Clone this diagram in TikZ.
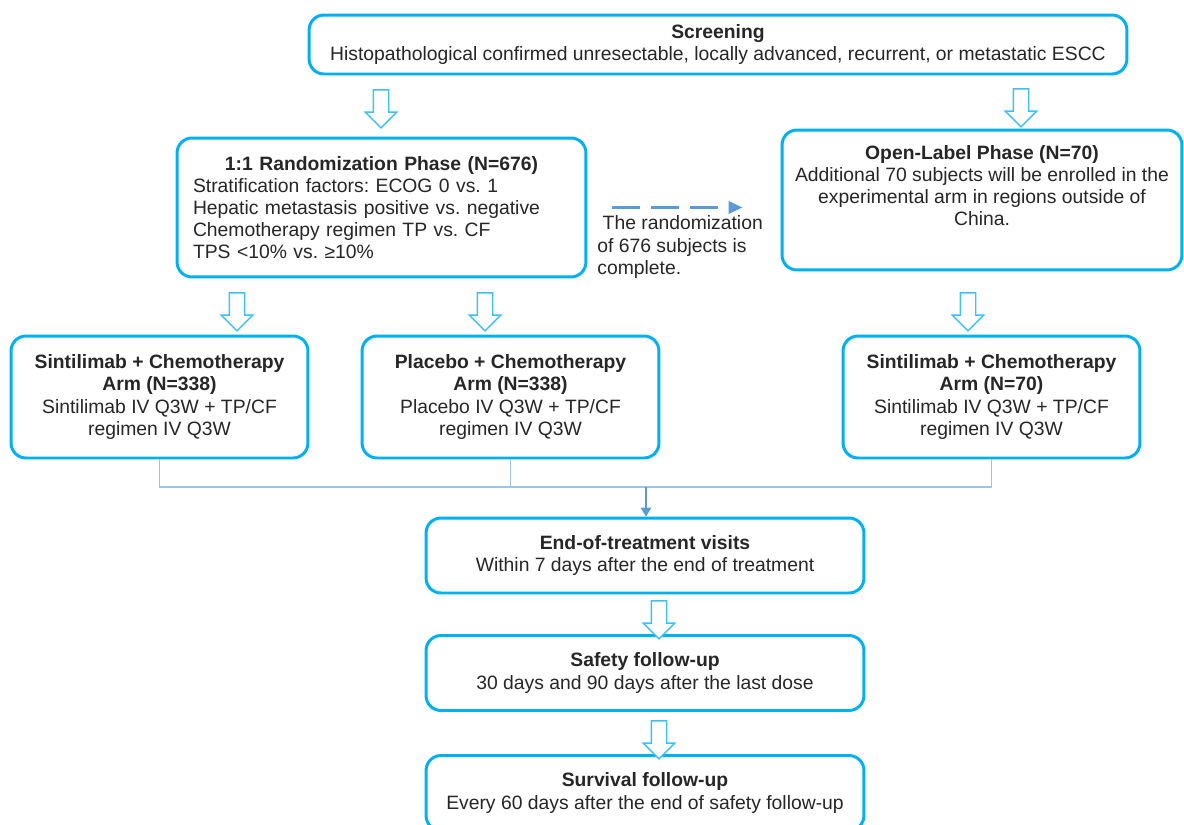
\documentclass[tikz,border=0pt]{standalone}
\usepackage{fontspec}
\setmainfont{Liberation Sans}
\frenchspacing
\usetikzlibrary{shapes.arrows, arrows.meta}
\definecolor{boxblue}{RGB}{0,176,240}
\definecolor{hollowblue}{RGB}{60,192,245}
\definecolor{linkblue}{RGB}{157,195,230}
\definecolor{dashblue}{RGB}{91,155,213}
\definecolor{txt}{RGB}{38,38,38}
\tikzstyle{phase} = [rectangle, rounded corners=0.3cm, draw=boxblue, line width=1.7pt, fill=white, text=txt, align=center, font=\fontsize{11}{12.6}\selectfont]
\tikzstyle{arm} = [phase, minimum width=5.94cm, minimum height=2.44cm]
\tikzstyle{visit} = [phase, minimum width=8.76cm, minimum height=1.5cm]
\tikzstyle{hollow} = [single arrow, draw=hollowblue, line width=0.8pt, fill=white, rotate=-90, minimum height=0.76cm, inner sep=0.14cm, single arrow head extend=0.16cm, single arrow head indent=0cm]
\tikzstyle{link} = [draw=linkblue, line width=0.8pt]
\tikzstyle{linkarrow} = [draw=dashblue, line width=0.8pt, -{Triangle[length=5pt,width=6pt]}]
\tikzstyle{dasharrow} = [draw=dashblue, line width=1.7pt, dash pattern=on 0.56cm off 0.22cm, -{Triangle[length=8pt,width=7pt]}]

\begin{document}
\begin{tikzpicture}[x=0.02cm, y=-0.02cm]
\useasboundingbox (0,0) rectangle (1184,825);

%Boxes
\node (screen) [phase, minimum width=16.36cm, minimum height=1.18cm] at (718,44.5) {\textbf{Screening}\\Histopathological confirmed unresectable, locally advanced, recurrent, or metastatic ESCC};
%Randomization
\node (rand) [phase, align=left, text width=7.54cm, inner xsep=0.32cm, minimum height=2.78cm] at (381.5,207.5) {\makebox[\hsize]{\textbf{1:1 Randomization Phase (N=676)}}\\Stratification factors: ECOG 0 vs. 1\\Hepatic metastasis positive vs. negative\\Chemotherapy regimen TP vs. CF\\TPS <10\% vs. ≥10\%};
%Open label
\node (open) [phase, minimum width=8cm, minimum height=2.8cm] at (982,200) {\textbf{Open-Label Phase (N=70)}\\Additional 70 subjects will be enrolled in the\\experimental arm in regions outside of\\China.\\\strut};
\node (note) [text=txt, align=left, anchor=west, inner sep=0pt, font=\fontsize{11}{12.6}\selectfont] at (597,247) {\ The randomization\\of 676 subjects is\\complete.};
%Arms
\node (sinti) [arm] at (159.5,397) {\textbf{Sintilimab + Chemotherapy}\\\textbf{Arm (N=338)}\\Sintilimab IV Q3W + TP/CF\\regimen IV Q3W};
\node (placebo) [arm] at (510.5,397) {\textbf{Placebo + Chemotherapy}\\\textbf{Arm (N=338)}\\Placebo IV Q3W + TP/CF\\regimen IV Q3W};
\node (sintiOL) [arm] at (991.5,397) {\textbf{Sintilimab + Chemotherapy}\\\textbf{Arm (N=70)}\\Sintilimab IV Q3W + TP/CF\\regimen IV Q3W};
%Visits
\node (eot) [visit] at (645,555.5) {\textbf{End-of-treatment visits}\\Within 7 days after the end of treatment};
\node (safety) [visit] at (645,673) {\textbf{Safety follow-up}\\30 days and 90 days after the last dose};
\node (surv) [visit] at (645,793) {\textbf{Survival follow-up}\\Every 60 days after the end of safety follow-up};

%block arrows
\node (ha1) [hollow] at (381,105) {};
\node (ha2) [hollow] at (1021,104) {};
\node (ha3) [hollow] at (237,308) {};
\node (ha4) [hollow] at (485,308) {};
\node (ha5) [hollow] at (968,308) {};
\node (ha6) [hollow] at (659,616) {};
\node (ha7) [hollow] at (659,736) {};

%arrows
\coordinate (join) at (646,487);
\draw [dasharrow] ([xshift=0.5cm]rand.east) -- ([xshift=-0.76cm]open.west |- rand.east);
\draw [link] (sinti.south) |- (join) -| (sintiOL.south);
\draw [link] (placebo.south) -- (placebo.south |- join);
\draw [linkarrow] (join) -- (join |- eot.north);

\end{tikzpicture}
\end{document}
